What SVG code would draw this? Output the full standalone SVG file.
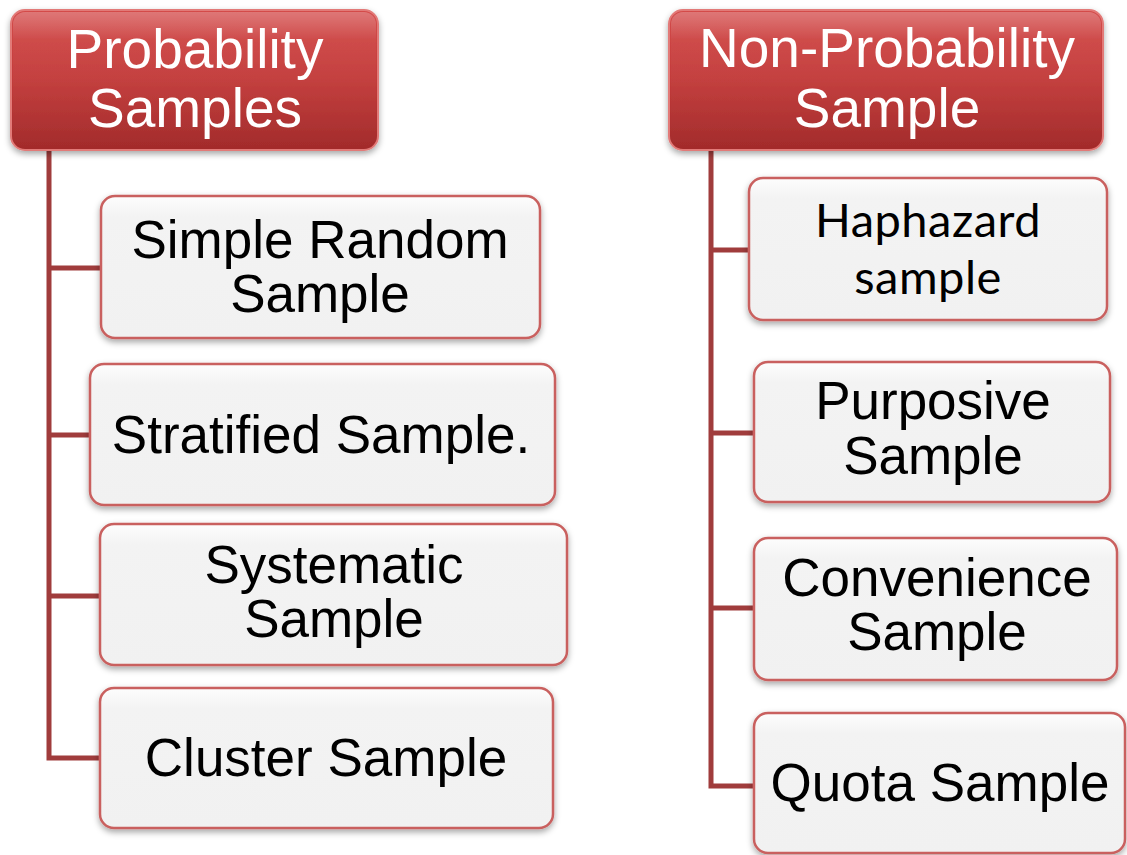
<svg xmlns="http://www.w3.org/2000/svg" width="1127" height="855" viewBox="0 0 1127 855">
  <defs>
    <linearGradient id="headFill" x1="0" y1="0" x2="0" y2="1">
      <stop offset="0" stop-color="#d44b4a"/>
      <stop offset="0.5" stop-color="#c23b3a"/>
      <stop offset="1" stop-color="#a22b2b"/>
    </linearGradient>
    <linearGradient id="headGloss" x1="0" y1="0" x2="0" y2="1">
      <stop offset="0" stop-color="#ffffff" stop-opacity="0.25"/>
      <stop offset="0.2" stop-color="#ffffff" stop-opacity="0.04"/>
      <stop offset="1" stop-color="#ffffff" stop-opacity="0"/>
    </linearGradient>
    <linearGradient id="leafFill" x1="0" y1="0" x2="0" y2="1">
      <stop offset="0" stop-color="#fdfdfd"/>
      <stop offset="0.15" stop-color="#f3f3f3"/>
      <stop offset="1" stop-color="#f1f1f1"/>
    </linearGradient>
    <filter id="shadow" x="-10%" y="-10%" width="120%" height="130%">
      <feDropShadow dx="0" dy="3" stdDeviation="3" flood-color="#000000" flood-opacity="0.35"/>
    </filter>
  </defs>
  <style>
    .head rect.body { fill: url(#headFill); stroke: #e27a78; stroke-width: 2; filter: url(#shadow); }
    .head rect.gloss { fill: url(#headGloss); stroke: none; }
    .head text { font-family: "Liberation Sans", Arial, sans-serif; font-size: 55px; fill: #ffffff; text-anchor: middle; }
    .leaf rect { fill: url(#leafFill); stroke: #c9605e; stroke-width: 2.5; filter: url(#shadow); }
    .leaf text { font-family: "Liberation Sans", Arial, sans-serif; font-size: 53px; fill: #000000; text-anchor: middle; }
    .leaf text.alt { font-family: Lato, "Open Sans", sans-serif; font-size: 47px; letter-spacing: 0.5px; }
    .conn { fill: none; stroke: #a03c3c; stroke-width: 5; }
  </style>

  <rect width="1127" height="855" fill="#ffffff"/>

  <!-- tree connectors -->
  <g id="connectors">
    <path class="conn" d="M49,148 V758 H100"/>
    <path class="conn" d="M49,268 H102"/>
    <path class="conn" d="M49,435 H92"/>
    <path class="conn" d="M49,596 H102"/>
    <path class="conn" d="M711,148 V786 H756"/>
    <path class="conn" d="M711,250 H751"/>
    <path class="conn" d="M711,433 H756"/>
    <path class="conn" d="M711,608 H756"/>
  </g>

  <!-- probability branch -->
  <g id="probability" class="head">
    <rect class="body" x="11" y="10" width="367" height="140" rx="14"/>
    <rect class="gloss" x="13" y="12" width="363" height="136" rx="12"/>
    <text x="195" y="68">Probability</text>
    <text x="195" y="127">Samples</text>
  </g>
  <g id="simple-random" class="leaf">
    <rect x="101" y="196" width="439" height="142" rx="14"/>
    <text x="320" y="258">Simple Random</text>
    <text x="320" y="312">Sample</text>
  </g>
  <g id="stratified" class="leaf">
    <rect x="90" y="364" width="465" height="141" rx="14"/>
    <text x="321" y="453">Stratified Sample.</text>
  </g>
  <g id="systematic" class="leaf">
    <rect x="100" y="524" width="467" height="141" rx="14"/>
    <text x="334" y="583">Systematic</text>
    <text x="334" y="637">Sample</text>
  </g>
  <g id="cluster" class="leaf">
    <rect x="100" y="688" width="453" height="140" rx="14"/>
    <text x="326" y="776">Cluster Sample</text>
  </g>

  <!-- non-probability branch -->
  <g id="non-probability" class="head">
    <rect class="body" x="669" y="10" width="434" height="140" rx="14"/>
    <rect class="gloss" x="671" y="12" width="430" height="136" rx="12"/>
    <text x="887" y="67">Non-Probability</text>
    <text x="887" y="127">Sample</text>
  </g>
  <g id="haphazard" class="leaf">
    <rect x="749" y="178" width="358" height="142" rx="14"/>
    <text class="alt" x="928" y="237">Haphazard</text>
    <text class="alt" x="928" y="294">sample</text>
  </g>
  <g id="purposive" class="leaf">
    <rect x="754" y="362" width="356" height="140" rx="14"/>
    <text x="933" y="419">Purposive</text>
    <text x="933" y="474">Sample</text>
  </g>
  <g id="convenience" class="leaf">
    <rect x="754" y="538" width="363" height="142" rx="14"/>
    <text x="937" y="596">Convenience</text>
    <text x="937" y="650">Sample</text>
  </g>
  <g id="quota" class="leaf">
    <rect x="754" y="713" width="371" height="140" rx="14"/>
    <text x="940" y="801">Quota Sample</text>
  </g>
</svg>
